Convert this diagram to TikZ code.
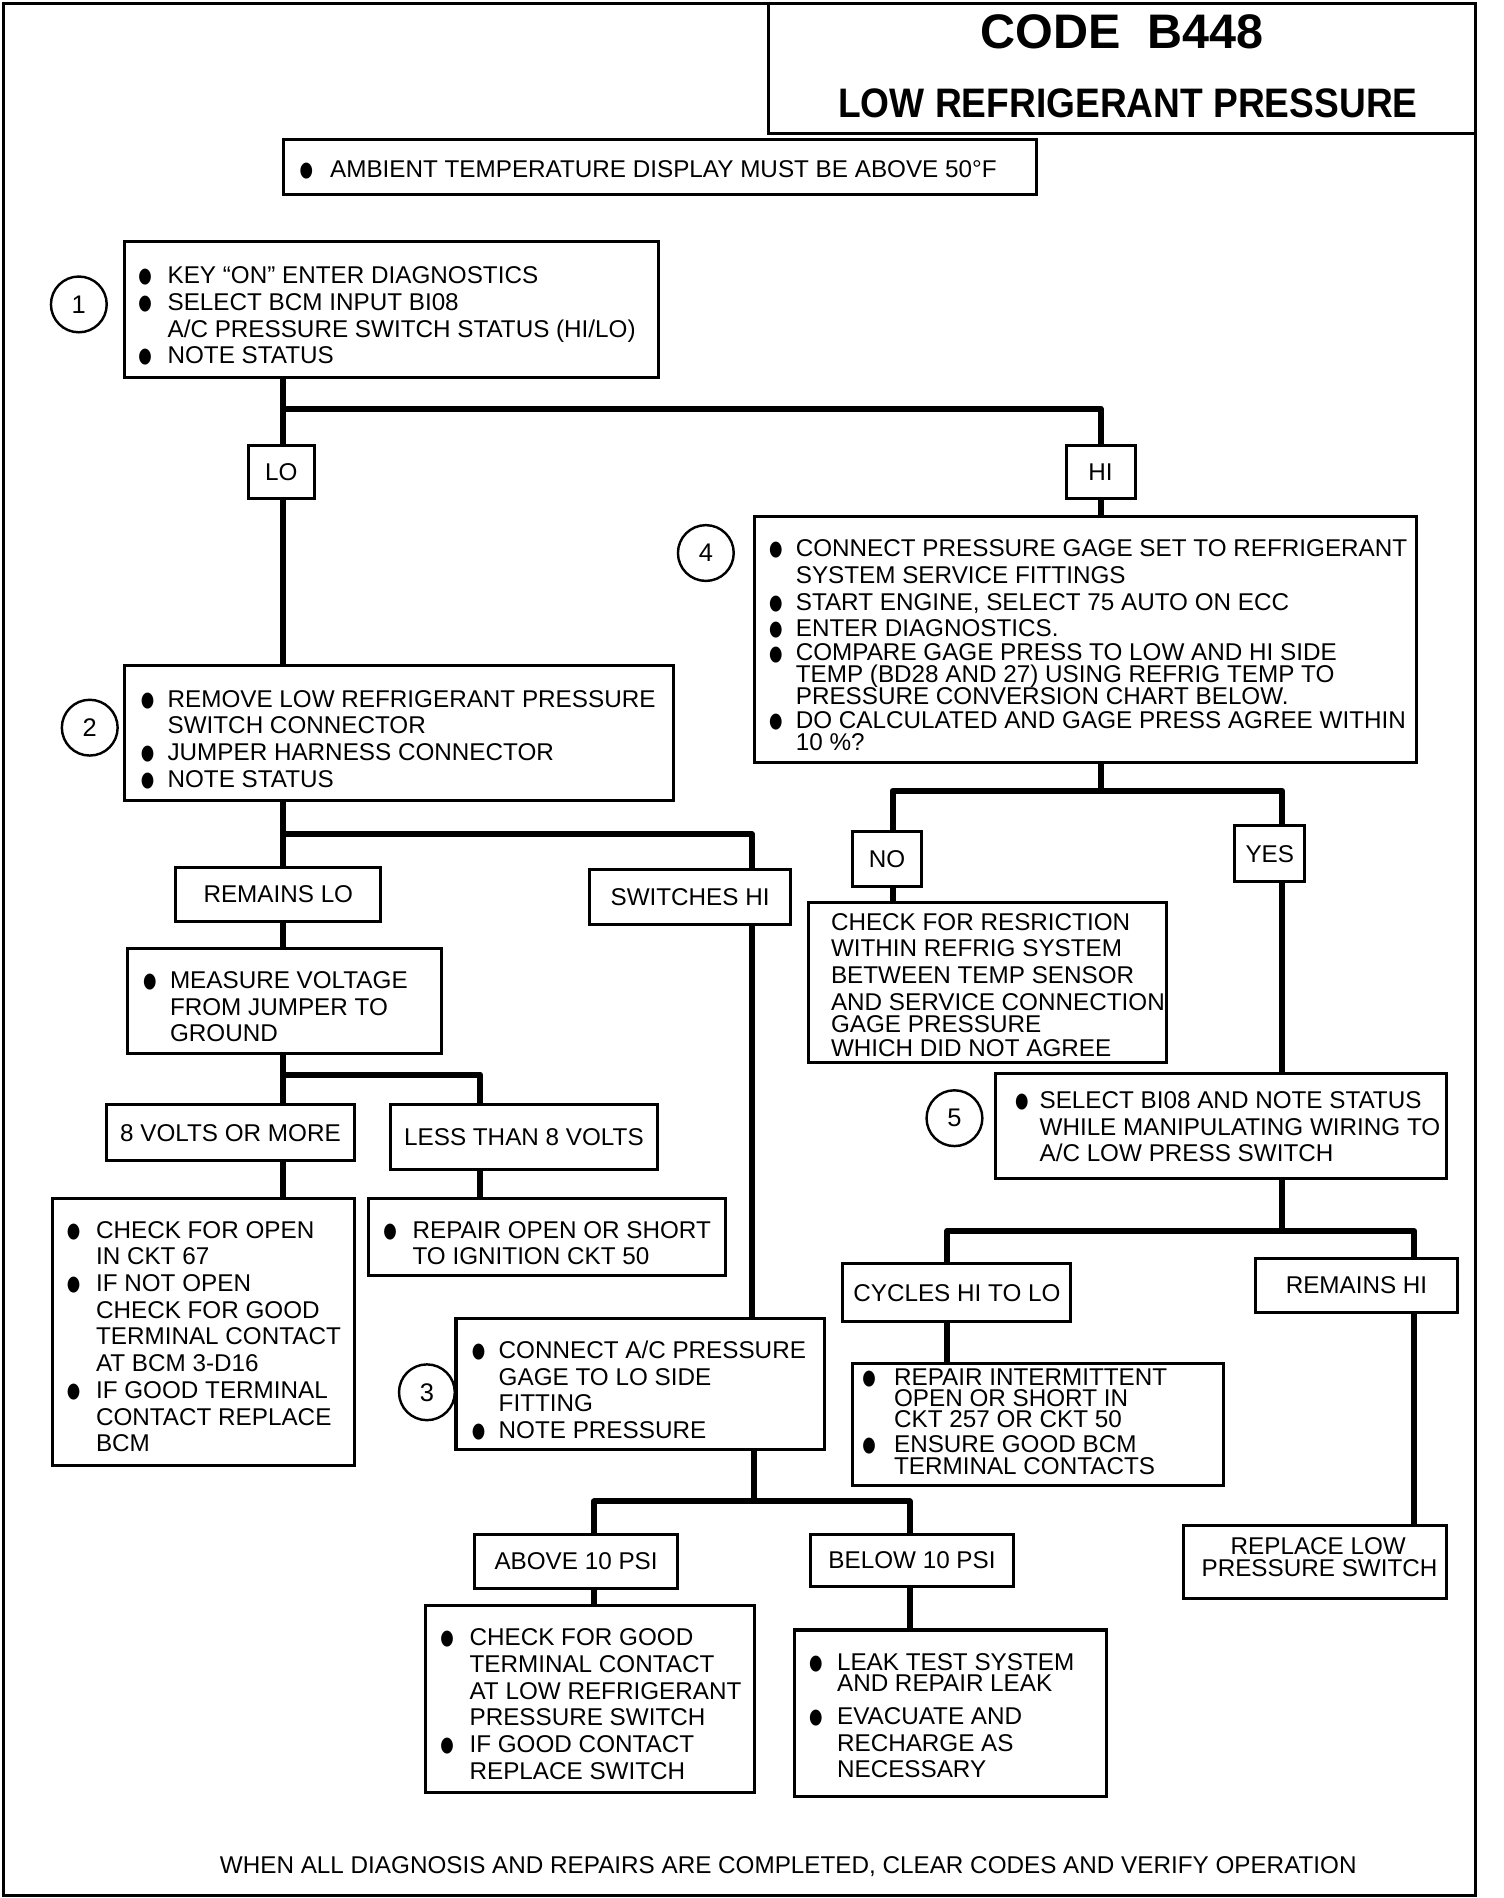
\documentclass[tikz,border=0pt]{standalone}
\usepackage{fontspec}
\setmainfont{Liberation Sans}
\newfontfamily\symfont{DejaVu Sans}
\newcommand\body{\fontsize{20}{22}\selectfont}
\newcommand\bul[1][11pt]{\llap{\raisebox{0.8pt}{\scalebox{0.85}[1.15]{\symfont\fontsize{15}{15}\selectfont ●}}\hspace{#1}}}
\tikzset{
  box/.style={draw, line width=2.5pt, inner sep=0pt, outer sep=0pt, fill=white, font=\body},
  conn/.style={line width=5pt, line join=round},
  ln/.style={anchor=base west, inner sep=0pt, font=\body},
  cln/.style={anchor=base, inner sep=0pt, font=\body},
  num/.style={circle, draw, line width=2pt, minimum size=46pt, inner sep=0pt, font=\fontsize{21}{21}\selectfont},
}
\begin{document}
\begin{tikzpicture}[x=1pt,y=-1pt]
\useasboundingbox (0,0) rectangle (1240,1565);
% frame and title
\draw[line width=2.5pt] (3,3) rectangle (1217,1563);
\node[box, minimum width=583, minimum height=107] (title) at (925.5,56.5) {};
\node[anchor=base, inner sep=0pt, font=\fontsize{40}{40}\selectfont\bfseries] (code) at (925,40) {CODE~~B448};
\node[anchor=base, inner sep=0pt] (sub) at (930,97) {\scalebox{0.9}[1]{\fontsize{34}{34}\selectfont\bfseries LOW REFRIGERANT PRESSURE}};
% ambient
\node[box, minimum width=621, minimum height=45] (amb) at (544.5,137.5) {};
\node[ln] (tamb) at (272,146) {\bul[14pt]AMBIENT TEMPERATURE DISPLAY MUST BE ABOVE 50°F};
% step 1
\node[box, minimum width=440, minimum height=112] (b1) at (323,255) {};
\node[num] (c1) at (65,251) {1};
\node[ln] (t1a) at (138,234) {\bul[13pt]KEY “ON” ENTER DIAGNOSTICS};
\node[ln] (t1b) at (138,256) {\bul[13pt]SELECT BCM INPUT BI08};
\node[ln] (t1c) at (138,278) {A/C PRESSURE SWITCH STATUS (HI/LO)};
\node[ln] (t1d) at (138,300) {\bul[13pt]NOTE STATUS};
\node[box, minimum width=54, minimum height=44] (lo) at (232,389) {LO};
\node[box, minimum width=57, minimum height=44] (hi) at (907.5,389) {HI};
% step 4
\node[box, minimum width=546, minimum height=203] (b4) at (895,527.5) {};
\node[num] (c4) at (582,456) {4};
\node[ln] (t4a) at (656,459) {\bul CONNECT PRESSURE GAGE SET TO REFRIGERANT};
\node[ln] (t4b) at (656,481) {SYSTEM SERVICE FITTINGS};
\node[ln] (t4c) at (656,503) {\bul START ENGINE, SELECT 75 AUTO ON ECC};
\node[ln] (t4d) at (656,525) {\bul ENTER DIAGNOSTICS.};
\node[ln] (t4e) at (656,545) {\bul COMPARE GAGE PRESS TO LOW AND HI SIDE};
\node[ln] (t4f) at (656,563) {TEMP (BD28 AND 27) USING REFRIG TEMP TO};
\node[ln] (t4g) at (656,581) {PRESSURE CONVERSION CHART BELOW.};
\node[ln] (t4h) at (656,601) {\bul DO CALCULATED AND GAGE PRESS AGREE WITHIN};
\node[ln] (t4i) at (656,619) {10 \%?};
% step 2
\node[box, minimum width=452, minimum height=111] (b2) at (329,604.5) {};
\node[num] (c2) at (74,600) {2};
\node[ln] (t2a) at (138,583) {\bul REMOVE LOW REFRIGERANT PRESSURE};
\node[ln] (t2b) at (138,605) {SWITCH CONNECTOR};
\node[ln] (t2c) at (138,627) {\bul JUMPER HARNESS CONNECTOR};
\node[ln] (t2d) at (138,649) {\bul NOTE STATUS};
% NO / YES
\node[box, minimum width=57, minimum height=45] (no) at (731.5,708.5) {NO};
\node[box, minimum width=58, minimum height=46] (yes) at (1047,704) {YES};
\node[box, minimum width=295, minimum height=132] (chk) at (814.5,810) {};
\node[ln] (tca) at (685,767) {CHECK FOR RESRICTION};
\node[ln] (tcb) at (685,789) {WITHIN REFRIG SYSTEM};
\node[ln] (tcc) at (685,811) {BETWEEN TEMP SENSOR};
\node[ln] (tcd) at (685,833) {AND SERVICE CONNECTION};
\node[ln] (tce) at (685,851) {GAGE PRESSURE};
\node[ln] (tcf) at (685,871) {WHICH DID NOT AGREE};
% step 5
\node[box, minimum width=372, minimum height=87] (b5) at (1007,928.5) {};
\node[num] (c5) at (787,922) {5};
\node[ln] (t5a) at (857,914) {\bul[9pt]SELECT BI08 AND NOTE STATUS};
\node[ln] (t5b) at (857,936) {WHILE MANIPULATING WIRING TO};
\node[ln] (t5c) at (857,958) {A/C LOW PRESS SWITCH};
\node[box, minimum width=188, minimum height=48] (cyc) at (789,1066) {CYCLES HI TO LO};
\node[box, minimum width=167, minimum height=44] (remhi) at (1118.5,1060) {REMAINS HI};
\node[box, minimum width=306, minimum height=101] (rint) at (856,1174.5) {};
\node[ln] (tra) at (737,1142) {\bul[15pt]REPAIR INTERMITTENT};
\node[ln] (trb) at (737,1160) {OPEN OR SHORT IN};
\node[ln] (trc) at (737,1177) {CKT 257 OR CKT 50};
\node[ln] (trd) at (737,1198) {\bul[15pt]ENSURE GOOD BCM};
\node[ln] (tre) at (737,1216) {TERMINAL CONTACTS};
\node[box, minimum width=217, minimum height=60] (repl) at (1084.5,1288) {};
\node[cln] (tpa) at (1087,1282) {REPLACE LOW};
\node[cln] (tpb) at (1088,1300) {PRESSURE SWITCH};
% left branch
\node[box, minimum width=169, minimum height=45] (remlo) at (229.5,737.5) {REMAINS LO};
\node[box, minimum width=166, minimum height=45] (swhi) at (569,739.5) {SWITCHES HI};
\node[box, minimum width=259, minimum height=87] (meas) at (234.5,825.5) {};
\node[ln] (tma) at (140,815) {\bul MEASURE VOLTAGE};
\node[ln] (tmb) at (140,837) {FROM JUMPER TO};
\node[ln] (tmc) at (140,859) {GROUND};
\node[box, minimum width=204, minimum height=46] (v8) at (190,934) {8 VOLTS OR MORE};
\node[box, minimum width=220, minimum height=53] (lt8) at (432,937.5) {LESS THAN 8 VOLTS};
\node[box, minimum width=249, minimum height=220] (copen) at (167.5,1098) {};
\node[ln] (toa) at (79,1021) {\bul[13pt]CHECK FOR OPEN};
\node[ln] (tob) at (79,1043) {IN CKT 67};
\node[ln] (toc) at (79,1065) {\bul[13pt]IF NOT OPEN};
\node[ln] (tod) at (79,1087) {CHECK FOR GOOD};
\node[ln] (toe) at (79,1109) {TERMINAL CONTACT};
\node[ln] (tof) at (79,1131) {AT BCM 3-D16};
\node[ln] (tog) at (79,1153) {\bul[13pt]IF GOOD TERMINAL};
\node[ln] (toh) at (79,1175) {CONTACT REPLACE};
\node[ln] (toi) at (79,1197) {BCM};
\node[box, minimum width=294, minimum height=64] (ropen) at (451,1020) {};
\node[ln] (tqa) at (340,1021) {\bul[13pt]REPAIR OPEN OR SHORT};
\node[ln] (tqb) at (340,1043) {TO IGNITION CKT 50};
% step 3
\node[box, minimum width=304, minimum height=108] (b3) at (528,1141) {};
\node[num] (c3) at (352,1148) {3};
\node[ln] (t3a) at (411,1120) {\bul CONNECT A/C PRESSURE};
\node[ln] (t3b) at (411,1142) {GAGE TO LO SIDE};
\node[ln] (t3c) at (411,1164) {FITTING};
\node[ln] (t3d) at (411,1186) {\bul NOTE PRESSURE};
\node[box, minimum width=168, minimum height=45] (above) at (475,1287.5) {ABOVE 10 PSI};
\node[box, minimum width=168, minimum height=43] (below) at (752,1286.5) {BELOW 10 PSI};
\node[box, minimum width=271, minimum height=154] (cgood) at (486.5,1401) {};
\node[ln] (tga) at (387,1357) {\bul[13pt]CHECK FOR GOOD};
\node[ln] (tgb) at (387,1379) {TERMINAL CONTACT};
\node[ln] (tgc) at (387,1401) {AT LOW REFRIGERANT};
\node[ln] (tgd) at (387,1423) {PRESSURE SWITCH};
\node[ln] (tge) at (387,1445) {\bul[13pt]IF GOOD CONTACT};
\node[ln] (tgf) at (387,1467) {REPLACE SWITCH};
\node[box, minimum width=257, minimum height=137] (leak) at (783.5,1412.5) {};
\node[ln] (tla) at (690,1377) {\bul[12pt]LEAK TEST SYSTEM};
\node[ln] (tlb) at (690,1395) {AND REPAIR LEAK};
\node[ln] (tlc) at (690,1422) {\bul[12pt]EVACUATE AND};
\node[ln] (tld) at (690,1444) {RECHARGE AS};
\node[ln] (tle) at (690,1466) {NECESSARY};
\node[cln] (foot) at (650,1545) {WHEN ALL DIAGNOSIS AND REPAIRS ARE COMPLETED, CLEAR CODES AND VERIFY OPERATION};
% connectors
\coordinate (k1) at (233,337);
\draw[conn] (b1.south -| k1) -- (k1) -- (lo.north -| k1);
\draw[conn] (k1) -| (hi.north);
\draw[conn] (lo.south -| k1) -- (b2.north -| k1);
\draw[conn] (hi.south) -- (b4.north -| hi.south);
\coordinate (k2) at (233,688); \coordinate (k2r) at (620,688);
\draw[conn] (b2.south -| k2) -- (remlo.north -| k2);
\draw[conn] (k2) -- (k2r) -- (swhi.north -| k2r);
\draw[conn] (swhi.south -| k2r) -- (b3.north -| k2r);
\draw[conn] (remlo.south -| k2) -- (meas.north -| k2);
\coordinate (k3) at (233,886); \coordinate (k3r) at (396,886);
\draw[conn] (meas.south -| k3) -- (v8.north -| k3);
\draw[conn] (k3) -- (k3r) -- (lt8.north -| k3r);
\draw[conn] (v8.south -| k3) -- (copen.north -| k3);
\draw[conn] (lt8.south -| k3r) -- (ropen.north -| k3r);
\coordinate (k4) at (622,1238); \coordinate (k4l) at (490,1238); \coordinate (k4r) at (750,1238);
\draw[conn] (b3.south -| k4) -- (k4);
\draw[conn] (above.north -| k4l) -- (k4l) -- (k4r) -- (below.north -| k4r);
\draw[conn] (above.south -| k4l) -- (cgood.north -| k4l);
\draw[conn] (below.south -| k4r) -- (leak.north -| k4r);
\coordinate (k5) at (908,652); \coordinate (k5l) at (736,652); \coordinate (k5r) at (1057,652);
\draw[conn] (b4.south -| k5) -- (k5);
\draw[conn] (no.north -| k5l) -- (k5l) -- (k5r) -- (yes.north -| k5r);
\draw[conn] (no.south -| k5l) -- (chk.north -| k5l);
\draw[conn] (yes.south -| k5r) -- (b5.north -| k5r);
\coordinate (k6) at (1057,1015); \coordinate (k6l) at (781,1015); \coordinate (k6r) at (1166,1015);
\draw[conn] (b5.south -| k6) -- (k6);
\draw[conn] (cyc.north -| k6l) -- (k6l) -- (k6r) -- (remhi.north -| k6r);
\draw[conn] (cyc.south -| k6l) -- (rint.north -| k6l);
\draw[conn] (remhi.south -| k6r) -- (repl.north -| k6r);
\end{tikzpicture}
\end{document}
